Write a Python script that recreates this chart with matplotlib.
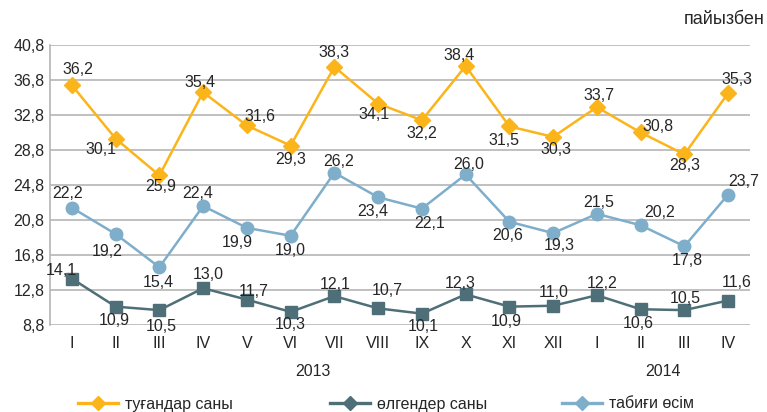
import matplotlib
matplotlib.use("Agg")
import matplotlib.pyplot as plt
from matplotlib.lines import Line2D

plt.rcParams['font.family'] = ['Liberation Sans', 'DejaVu Sans']

categories = ["I", "II", "III", "IV", "V", "VI", "VII", "VIII", "IX", "X", "XI", "XII",
              "I", "II", "III", "IV"]
years = ["2013", "2014"]
births = [36.2, 30.1, 25.9, 35.4, 31.6, 29.3, 38.3, 34.1, 32.2, 38.4, 31.5, 30.3, 33.7, 30.8, 28.3, 35.3]
deaths = [14.1, 10.9, 10.5, 13.0, 11.7, 10.3, 12.1, 10.7, 10.1, 12.3, 10.9, 11.0, 12.2, 10.6, 10.5, 11.6]
natural = [22.2, 19.2, 15.4, 22.4, 19.9, 19.0, 26.2, 23.4, 22.1, 26.0, 20.6, 19.3, 21.5, 20.2, 17.8, 23.7]
series_names = ["туғандар саны", "өлгендер саны", "табиғи өсім"]
yticks = [8.8, 12.8, 16.8, 20.8, 24.8, 28.8, 32.8, 36.8, 40.8]

# label offsets in pixels (dx, dy up positive)
off_births = [(6, 16), (-15, -11), (1, -11), (-3, 10), (13, 9), (0, -14), (0, 14), (-4, -11),
              (0, -13), (-7, 11), (-5, -14), (3, -13), (2, 12), (17, 6), (0, -11), (9, 14)]
off_natural = [(-4, 14), (-8, -17), (-1, -15), (-5, 12), (-10, -15), (0, -15), (4, 11), (-5, -14),
               (8, -15), (3, 10), (-2, -14), (6, -12), (2, 11), (19, 13), (3, -14), (16, 13)]
off_deaths = [(-11, 8), (-1, -14), (2, -16), (5, 14), (7, 8), (0, -13), (1, 12), (9, 18),
              (1, -13), (-5, 11), (-3, -15), (1, 13), (5, 12), (-2, -14), (1, 12), (9, 18)]

c_b = "#FBB51A"
c_d = "#4F6F78"
c_n = "#7FAECB"
txt = "#262626"
fs = 11.5

fig = plt.figure(figsize=(7.67, 4.12), dpi=100)
ax = fig.add_axes([50/767, 1-325/412, 700/767, 280/412])
x = list(range(len(categories)))

ax.plot(x, births, color=c_b, lw=1.8, marker='D', ms=8, zorder=3)
ax.plot(x, natural, color=c_n, lw=1.8, marker='o', ms=9, zorder=3)
ax.plot(x, deaths, color=c_d, lw=1.8, marker='s', ms=8, zorder=3)

def fmt(v):
    return f"{v:.1f}".replace(".", ",")

for vals, offs in ((births, off_births), (natural, off_natural), (deaths, off_deaths)):
    for xi, v, (dx, dy) in zip(x, vals, offs):
        ax.annotate(fmt(v), (xi, v), xytext=(dx*0.72, dy*0.72), textcoords='offset points',
                    ha='center', va='center', fontsize=fs, color=txt, zorder=4)

ax.set_xlim(-0.5, len(categories)-0.5)
ax.set_ylim(8.8, 40.8)
ax.set_yticks(yticks)
ax.set_yticklabels([fmt(t) for t in yticks])
ax.set_xticks(x)
ax.set_xticklabels(categories)
ax.tick_params(axis='both', length=0, labelsize=fs, colors=txt)
ax.tick_params(axis='x', pad=8)
ax.tick_params(axis='y', pad=4)
ax.grid(axis='y', color='#B5B5B5', lw=1.2)
ax.set_axisbelow(True)
for s in ['top', 'right', 'bottom']:
    ax.spines[s].set_visible(False)
ax.spines['left'].set_color('#B5B5B5')
ax.spines['left'].set_linewidth(1.2)

ax.text(5.5, -0.165, years[0], transform=ax.get_xaxis_transform(), ha='center', va='center', fontsize=fs, color=txt)
ax.text(13.5, -0.165, years[1], transform=ax.get_xaxis_transform(), ha='center', va='center', fontsize=fs, color=txt)

fig.text(765/767, 1-20/412, "пайызбен", ha='right', va='center', fontsize=13, color=txt)

for c, name, xs in zip((c_b, c_d, c_n), series_names, (78, 330, 562)):
    h = Line2D([0], [0], color=c, lw=2.4, marker='D', ms=7)
    leg = fig.legend([h], [name], loc='center left', bbox_to_anchor=(xs/767, 1-404/412),
                     frameon=False, fontsize=fs, handlelength=2.5, handletextpad=0.45,
                     borderpad=0, borderaxespad=0)
    for t in leg.get_texts():
        t.set_color(txt)

fig.savefig("out.png", dpi=100)
